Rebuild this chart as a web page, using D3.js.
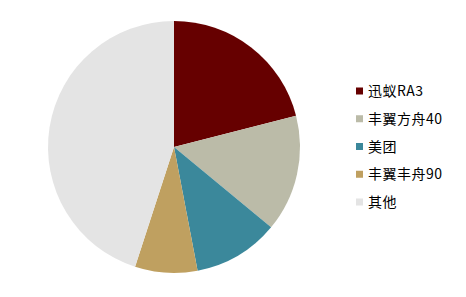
<!DOCTYPE html>
<html>
<head>
<meta charset="utf-8">
<script src="https://cdn.jsdelivr.net/npm/d3@7"></script>
<style>
  body { margin: 0; background: #fff; }
  text { font-family: "Noto Sans CJK SC", "Noto Sans", sans-serif; }
</style>
</head>
<body>
<div id="chart"></div>
<script>
var names = ["迅蚁RA3", "丰翼方舟40", "美团", "丰翼丰舟90", "其他"];
var shares = [21, 15, 11, 8, 45];
var colors = ["#660000", "#BBBBA8", "#3B889B", "#BFA060", "#E4E4E4"];

var svgWidth = 466;
var svgHeight = 297;

var svg = d3.select("#chart")
  .append("svg")
  .attr("width", svgWidth)
  .attr("height", svgHeight);

var data = names.map((n, i) => ({name: n, value: shares[i], color: colors[i]}));

var pie = d3.pie()
  .sort(null)
  .value(d => d.value);

var arc = d3.arc()
  .innerRadius(0)
  .outerRadius(126);

var pieGroup = svg.append("g")
  .attr("transform", "translate(174, 147)");

pieGroup.selectAll("path")
  .data(pie(data))
  .enter()
  .append("path")
  .attr("d", arc)
  .attr("fill", d => d.data.color);

// legend
var legendY = d3.scalePoint()
  .domain(names)
  .range([91, 202]);

var legend = svg.append("g")
  .selectAll("g")
  .data(data)
  .enter()
  .append("g")
  .attr("transform", d => `translate(356, ${legendY(d.name)})`);

legend.append("rect")
  .attr("x", 0)
  .attr("y", -3.5)
  .attr("width", 7)
  .attr("height", 7)
  .attr("fill", d => d.color);

legend.append("text")
  .attr("x", 12)
  .attr("y", 0)
  .attr("dy", "0.36em")
  .attr("font-size", 14)
  .attr("letter-spacing", 0.5)
  .attr("fill", "#000")
  .text(d => d.name);
</script>
</body>
</html>
